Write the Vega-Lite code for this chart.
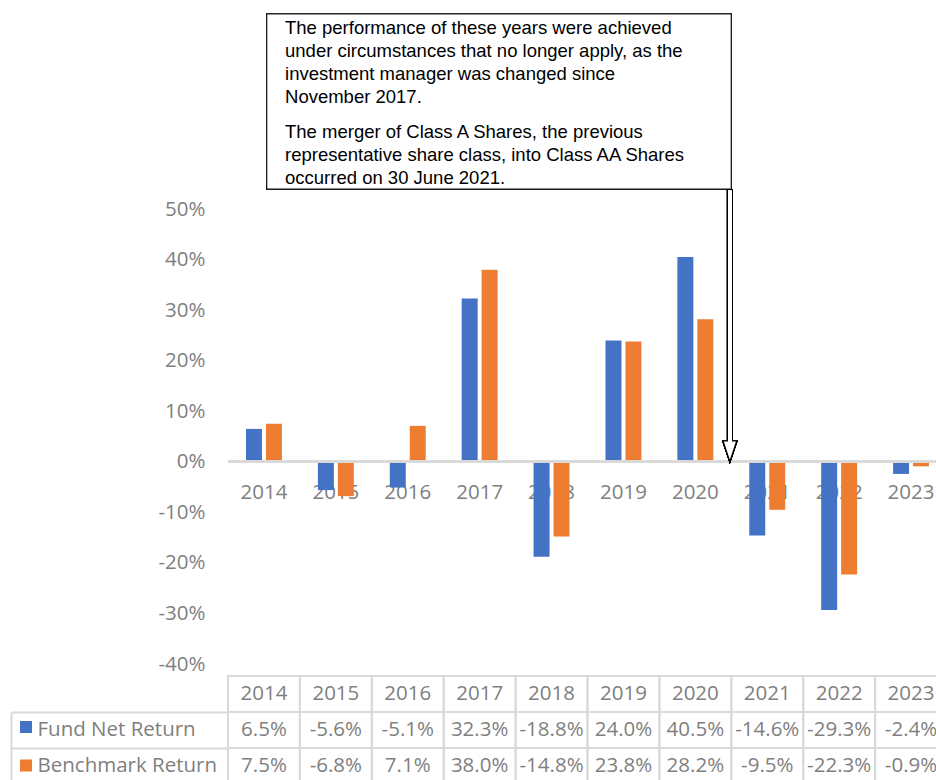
{
  "$schema": "https://vega.github.io/schema/vega-lite/v6.json",
  "width": 708,
  "height": 780,
  "autosize": {"type": "none"},
  "padding": {"left": 228, "top": 0, "right": 0, "bottom": 0},
  "background": "white",
  "config": {
    "view": {"stroke": null},
    "font": "Open Sans",
    "locale": {"number": {"decimal": ".", "thousands": ",", "grouping": [3], "currency": ["$", ""], "minus": "-"}}
  },
  "datasets": {
    "returns": [
      {"year": "2014", "series": "Fund Net Return", "value": 0.065},
      {"year": "2015", "series": "Fund Net Return", "value": -0.056},
      {"year": "2016", "series": "Fund Net Return", "value": -0.051},
      {"year": "2017", "series": "Fund Net Return", "value": 0.323},
      {"year": "2018", "series": "Fund Net Return", "value": -0.188},
      {"year": "2019", "series": "Fund Net Return", "value": 0.240},
      {"year": "2020", "series": "Fund Net Return", "value": 0.405},
      {"year": "2021", "series": "Fund Net Return", "value": -0.146},
      {"year": "2022", "series": "Fund Net Return", "value": -0.293},
      {"year": "2023", "series": "Fund Net Return", "value": -0.024},
      {"year": "2014", "series": "Benchmark Return", "value": 0.075},
      {"year": "2015", "series": "Benchmark Return", "value": -0.068},
      {"year": "2016", "series": "Benchmark Return", "value": 0.071},
      {"year": "2017", "series": "Benchmark Return", "value": 0.380},
      {"year": "2018", "series": "Benchmark Return", "value": -0.148},
      {"year": "2019", "series": "Benchmark Return", "value": 0.238},
      {"year": "2020", "series": "Benchmark Return", "value": 0.282},
      {"year": "2021", "series": "Benchmark Return", "value": -0.095},
      {"year": "2022", "series": "Benchmark Return", "value": -0.223},
      {"year": "2023", "series": "Benchmark Return", "value": -0.009}
    ],
    "notes": [
      {"para": 1, "note": "The performance of these years were achieved\nunder circumstances that no longer apply, as the\ninvestment manager was changed since\nNovember 2017."},
      {"para": 2, "note": "The merger of Class A Shares, the previous\nrepresentative share class, into Class AA Shares\noccurred on 30 June 2021."}
    ]
  },
  "data": {"name": "returns"},
  "layer": [
    {
      "layer": [
        {
          "mark": {"type": "bar"},
          "encoding": {
            "x": {
              "field": "year", "type": "ordinal",
              "scale": {"range": [0, 719], "paddingInner": 0, "paddingOuter": 0},
              "axis": {
                "orient": "bottom", "offset": -318, "ticks": false, "domain": false, "grid": false,
                "title": null, "labelAngle": 0, "labelBaseline": "middle", "labelPadding": 30,
                "labelFontSize": 20.5, "labelColor": "#7f7f7f", "labelFont": "Open Sans", "zindex": 0
              }
            },
            "xOffset": {
              "field": "series", "type": "nominal",
              "scale": {"domain": ["Fund Net Return", "Benchmark Return"], "paddingInner": 0.2, "paddingOuter": 0.9}
            },
            "y": {
              "field": "value", "type": "quantitative",
              "scale": {"domain": [-0.4, 0.5], "range": [664, 209], "nice": false, "zero": false},
              "axis": {
                "orient": "left", "values": [-0.4, -0.3, -0.2, -0.1, 0, 0.1, 0.2, 0.3, 0.4, 0.5],
                "format": ".0%", "title": null, "domain": false, "ticks": false, "grid": false,
                "labelPadding": 23, "labelFontSize": 20.5, "labelColor": "#7f7f7f", "labelFont": "Open Sans"
              }
            },
            "color": {
              "field": "series", "type": "nominal",
              "scale": {"domain": ["Fund Net Return", "Benchmark Return"], "range": ["#4472C4", "#ED7D31"]},
              "legend": {
                "orient": "none", "legendX": -208, "legendY": 721, "title": null,
                "symbolType": "square", "symbolSize": 144, "labelExpr": "''", "rowPadding": 26.5,
                "padding": 0, "symbolStrokeWidth": 0, "symbolOpacity": 1, "direction": "vertical"
              }
            }
          }
        },
        {
          "mark": {"type": "rule", "color": "#d9d9d9", "strokeWidth": 2.5},
          "encoding": {"y": {"datum": 0, "type": "quantitative"}}
        },
        {
          "mark": {"type": "rect", "fill": "white", "stroke": "#1a1a1a", "strokeWidth": 1.3},
          "encoding": {
            "x": {"datum": "2014", "type": "ordinal", "bandPosition": 0.538},
            "x2": {"datum": "2021", "bandPosition": 0},
            "y": {"datum": 0.886, "type": "quantitative"},
            "y2": {"datum": 0.5394}
          }
        },
        {
          "data": {"name": "notes"},
          "transform": [{"filter": "datum.para == 1"}],
          "mark": {"type": "text", "align": "left", "baseline": "top", "lineBreak": "\n", "lineHeight": 23, "font": "Liberation Sans", "fontSize": 18.5, "color": "#000000"},
          "encoding": {
            "x": {"datum": "2014", "type": "ordinal", "bandPosition": 0.793},
            "y": {"datum": 0.876, "type": "quantitative"},
            "text": {"field": "note", "type": "nominal"}
          }
        },
        {
          "data": {"name": "notes"},
          "transform": [{"filter": "datum.para == 2"}],
          "mark": {"type": "text", "align": "left", "baseline": "top", "lineBreak": "\n", "lineHeight": 23, "font": "Liberation Sans", "fontSize": 18.5, "color": "#000000"},
          "encoding": {
            "x": {"datum": "2014", "type": "ordinal", "bandPosition": 0.793},
            "y": {"datum": 0.6705, "type": "quantitative"},
            "text": {"field": "note", "type": "nominal"}
          }
        },
        {
          "mark": {"type": "rule", "color": "#000000", "strokeWidth": 5.8},
          "encoding": {
            "x": {"datum": "2021", "type": "ordinal", "bandPosition": -0.02},
            "y": {"datum": 0.5394, "type": "quantitative"},
            "y2": {"datum": 0.042}
          }
        },
        {
          "mark": {"type": "point", "shape": "M-0.333,-1L0.333,-1L0,0Z", "size": 1764, "filled": true, "fill": "white", "stroke": "#000000", "strokeWidth": 1.3, "opacity": 1},
          "encoding": {
            "x": {"datum": "2021", "type": "ordinal", "bandPosition": -0.02},
            "y": {"datum": 0, "type": "quantitative"}
          }
        },
        {
          "mark": {"type": "rule", "color": "white", "strokeWidth": 3.2},
          "encoding": {
            "x": {"datum": "2021", "type": "ordinal", "bandPosition": -0.02},
            "y": {"datum": 0.536, "type": "quantitative"},
            "y2": {"datum": 0.039}
          }
        }
      ]
    },
    {
      "layer": [
        {
          "mark": {"type": "rect", "fillOpacity": 0, "fill": "white", "stroke": "#d9d9d9", "strokeWidth": 2},
          "encoding": {
            "x": {"field": "year", "type": "ordinal"},
            "y": {
              "field": "series", "type": "nominal",
              "scale": {"domain": ["Year", "Fund Net Return", "Benchmark Return"], "range": [676, 784], "paddingInner": 0, "paddingOuter": 0},
              "axis": {
                "orient": "left", "values": ["Fund Net Return", "Benchmark Return"], "bandPosition": 0,
                "title": null, "domain": false, "grid": false,
                "ticks": true, "tickSize": 217, "tickColor": "#d9d9d9", "tickWidth": 2,
                "labelAlign": "left", "labelBaseline": "middle", "labelPadding": -26,
                "labelFontSize": 20.5, "labelColor": "#7f7f7f", "labelFont": "Open Sans"
              }
            }
          }
        },
        {
          "transform": [{"filter": "datum.series == 'Fund Net Return'"}],
          "mark": {"type": "rect", "fillOpacity": 0, "fill": "white", "stroke": "#d9d9d9", "strokeWidth": 2},
          "encoding": {
            "x": {"field": "year", "type": "ordinal"},
            "y": {"datum": "Year", "type": "nominal"}
          }
        },
        {
          "transform": [{"filter": "datum.series == 'Fund Net Return'"}],
          "mark": {"type": "text", "fontSize": 20.5, "font": "Open Sans", "color": "#7f7f7f", "baseline": "middle"},
          "encoding": {
            "x": {"field": "year", "type": "ordinal"},
            "y": {"datum": "Year", "type": "nominal"},
            "text": {"field": "year", "type": "nominal"}
          }
        }
      ]
    },
    {
      "layer": [
        {
          "mark": {"type": "text", "fontSize": 20.5, "font": "Open Sans", "color": "#7f7f7f", "baseline": "middle"},
          "encoding": {
            "x": {"field": "year", "type": "ordinal"},
            "y": {
              "field": "series", "type": "nominal",
              "scale": {"domain": ["Fund Net Return", "Benchmark Return"], "range": [712, 784], "paddingInner": 0, "paddingOuter": 0},
              "axis": {
                "orient": "left", "offset": 217, "title": null, "labels": false, "ticks": false, "grid": false,
                "domain": true, "domainColor": "#d9d9d9", "domainWidth": 2
              }
            },
            "text": {"field": "value", "type": "quantitative", "format": ".1%"}
          }
        }
      ]
    }
  ],
  "resolve": {"scale": {"y": "independent"}, "axis": {"y": "independent"}}
}
